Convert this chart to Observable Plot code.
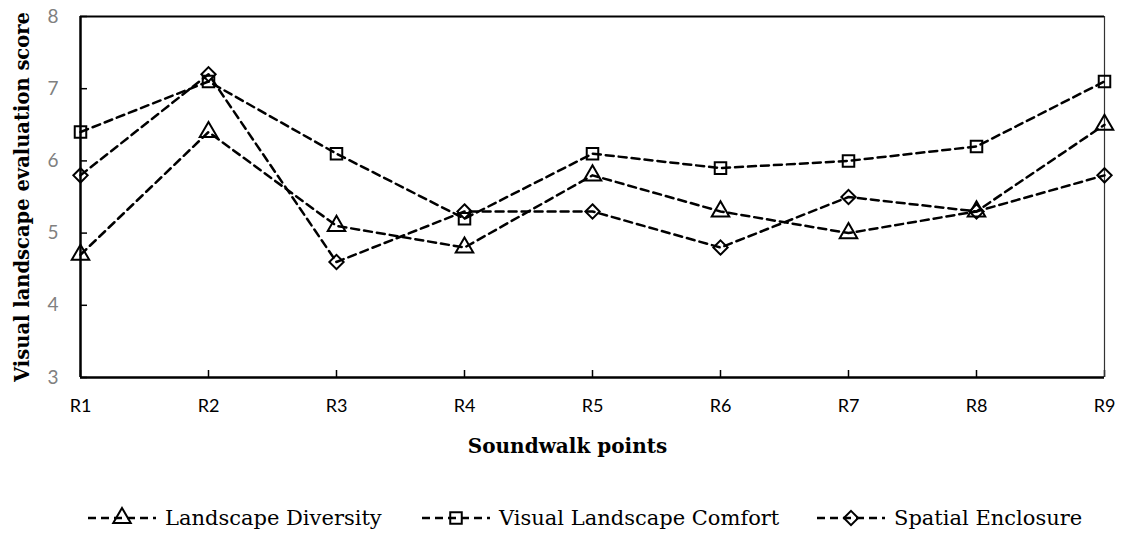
<!DOCTYPE html>
<html>
<head>
<meta charset="utf-8">
<script src="https://cdn.jsdelivr.net/npm/d3@7"></script>
<script src="https://cdn.jsdelivr.net/npm/@observablehq/plot@0.6"></script>
<style>
  html, body { margin: 0; padding: 0; background: #fff; }
  #chart { width: 1122px; }
  #legend { position: relative; width: 1122px; height: 63px; font-family: "DejaVu Serif", serif; font-size: 21px; color: #000; }
  .item { position: absolute; top: 35px; display: flex; align-items: center; height: 26px; }
  .item svg { display: block; margin-right: 9px; }
</style>
</head>
<body>
<div id="chart"></div>
<div id="legend"></div>
<script>
const points = ["R1", "R2", "R3", "R4", "R5", "R6", "R7", "R8", "R9"];
const seriesNames = ["Landscape Diversity", "Visual Landscape Comfort", "Spatial Enclosure"];
const diversity = [4.7, 6.4, 5.1, 4.8, 5.8, 5.3, 5.0, 5.3, 6.5];
const comfort   = [6.4, 7.1, 6.1, 5.2, 6.1, 5.9, 6.0, 6.2, 7.1];
const enclosure = [5.8, 7.2, 4.6, 5.3, 5.3, 4.8, 5.5, 5.3, 5.8];
const yTicks = [3, 4, 5, 6, 7, 8];

// open diamond drawn as a square rotated 45 degrees
const diamondSym = {
  draw(context, size) {
    const r = Math.sqrt(size) * 0.62;
    context.moveTo(0, -r);
    context.lineTo(r, 0);
    context.lineTo(0, r);
    context.lineTo(-r, 0);
    context.closePath();
  }
};
const symbols = [d3.symbolTriangle, d3.symbolSquare, diamondSym];

const seriesValues = [diversity, comfort, enclosure];
const data = [];
seriesNames.forEach((s, i) => points.forEach((p, j) => data.push({series: s, point: p, value: seriesValues[i][j]})));

const W = 1122, H = 470, mL = 80, mR = 18, mT = 16, mB = 93;
const innerW = W - mL - mR, innerH = H - mT - mB;

const chart = Plot.plot({
  width: W, height: H,
  marginLeft: mL, marginRight: mR, marginTop: mT, marginBottom: mB,
  style: {background: "#fff", overflow: "visible"},
  x: {type: "point", domain: points, padding: 0, label: null},
  y: {domain: [3, 8], label: null},
  symbol: {domain: seriesNames, range: symbols},
  marks: [
    Plot.axisY(yTicks, {tickSize: 0, tickPadding: 22, tickFormat: d3.format("d"), fontSize: 19, fill: "#808080", fontFamily: "Lato, sans-serif", label: null}),
    Plot.axisX(points, {tickSize: 0, tickPadding: 22, fontSize: 18, fill: "#000", fontFamily: "Lato, sans-serif", label: null}),
    Plot.tickY(yTicks, {y: d => d, insetRight: innerW - 7, stroke: "#000", strokeWidth: 1.5}),
    Plot.tickX(points, {x: d => d, insetTop: innerH - 7, stroke: "#000", strokeWidth: 1.5}),
    Plot.ruleY([8], {stroke: "#000", strokeWidth: 2}),
    Plot.ruleX(["R9"], {stroke: "#333", strokeWidth: 1.2}),
    Plot.ruleX(["R1"], {stroke: "#000", strokeWidth: 2.5}),
    Plot.ruleY([3], {stroke: "#000", strokeWidth: 2.5}),
    Plot.line(data, {x: "point", y: "value", z: "series", stroke: "#000", strokeWidth: 2.5, strokeDasharray: "8,5"}),
    Plot.dot(data, {x: "point", y: "value", symbol: "series", r: 6.5, fill: "none", stroke: "#000", strokeWidth: 2}),
    Plot.text(["Visual landscape evaluation score"], {frameAnchor: "left", textAnchor: "middle", rotate: -90, dx: -58, fontSize: 19.5, fontWeight: "bold", fontFamily: "DejaVu Serif, serif", fill: "#000"}),
    Plot.text(["Soundwalk points"], {frameAnchor: "bottom", textAnchor: "middle", dy: 75, dx: -25, fontSize: 20, fontWeight: "bold", fontFamily: "DejaVu Serif, serif", fill: "#000"})
  ]
});
document.getElementById("chart").append(chart);

// legend
const legend = d3.select("#legend");
const lefts = [88, 422, 817];
seriesNames.forEach((name, i) => {
  const item = legend.append("div").attr("class", "item").style("left", lefts[i] + "px");
  const svg = item.append("svg").attr("width", 68).attr("height", 26);
  svg.append("line").attr("x1", 0).attr("x2", 68).attr("y1", 13).attr("y2", 13)
    .attr("stroke", "#000").attr("stroke-width", 2.5).attr("stroke-dasharray", "8,5");
  svg.append("path").attr("transform", "translate(34,13)")
    .attr("d", d3.symbol(symbols[i], Math.PI * 6.5 * 6.5)())
    .attr("fill", "none").attr("stroke", "#000").attr("stroke-width", 2);
  item.append("span").text(name);
});
</script>
</body>
</html>
